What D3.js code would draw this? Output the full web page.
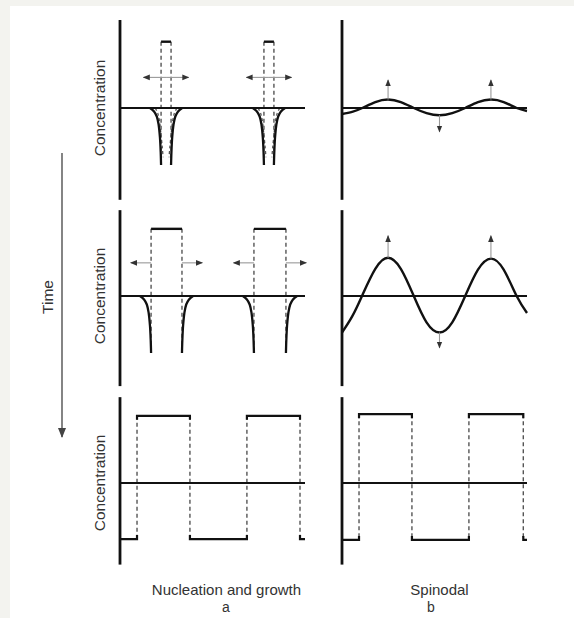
<!DOCTYPE html>
<html>
<head>
<meta charset="utf-8">
<script src="https://cdn.jsdelivr.net/npm/d3@7"></script>
<style>
  body { margin: 0; background: #f3f3ef; }
  svg { display: block; }
  text { font-family: "Liberation Sans", Arial, sans-serif; fill: #333; }
</style>
</head>
<body>
<script>
// --- data (x in 0..100 along a panel, y in -1..1 around the baseline) ---
const rowLabels = ["Concentration", "Concentration", "Concentration"];
const colCaptions = ["Nucleation and growth", "Spinodal"];
const colLetters = ["a", "b"];
const timeLabel = "Time";

// nucleation: precipitate edges, stage 1 and 2
const nucTopEdges = [[22.2, 27.6], [77.8, 83.2]];
const nucMidEdges = [[16.8, 33.5], [72.4, 89.7]];
const precipLevel = [0.78, 0.79];
const wellDx = [-6, -3.8, -2.3, -1.3, -0.6, -0.2, 0];
const wellDy = [0, -0.04, -0.1, -0.2, -0.35, -0.52, -0.67];
const innerDx = [-3.2, -1.8, -0.8, -0.1, 0.6, 1.1];
const innerDy = [0, -0.06, -0.16, -0.3, -0.45, -0.58];
const nucArrowY = [0.36, 0.39];
const nucArrowLen = [12.2, 11.0];

// spinodal wave samples
const waveX = [0, 5.5, 11, 18, 24.9, 31.8, 38.8, 45.7, 52.7, 59.6, 66.6, 73.5, 80.5, 87.4, 94.4, 100];
const waveTopY = [-0.07, -0.045, 0.0, 0.07, 0.1, 0.07, 0.0, -0.06, -0.085, -0.06, 0.0, 0.07, 0.1, 0.07, 0.0, -0.035];
const waveMidY = [-0.43, -0.24, 0.01, 0.32, 0.45, 0.32, 0.0, -0.31, -0.43, -0.31, 0.0, 0.31, 0.44, 0.31, 0.0, -0.2];
const waveArrowX = [24.9, 52.7, 80.5];
const waveTopTips = [0.33, -0.28, 0.33];
const waveMidTips = [0.71, -0.61, 0.71];

// final stage: square profiles
const sqEdges = [[9.2, 37.8, 68.6, 97.3], [9.2, 37.8, 68.6, 98.0]];
const sqHigh = [0.79, 0.81];
const sqLow = [-0.66, -0.67];

// axis extents per row
const axisLo = [-1.08, -1.06, -0.96];
const axisHi = [1.035, 1.01, 1.01];

// --- layout ---
const W = 574, H = 618;
const colX = [120, 342], colW = 185;
const rowBase = [108, 296, 483], rowHalf = 85;

const svg = d3.select("body").append("svg").attr("width", W).attr("height", H);
svg.append("rect").attr("width", W).attr("height", H).attr("fill", "#f3f3ef");
svg.append("rect").attr("x", 10).attr("y", 6).attr("width", W - 10).attr("height", H - 6).attr("fill", "#fff");

const defs = svg.append("defs");
defs.append("marker").attr("id", "ah").attr("viewBox", "0 0 10 10")
    .attr("refX", 9).attr("refY", 5).attr("markerWidth", 7).attr("markerHeight", 7)
    .attr("markerUnits", "userSpaceOnUse").attr("orient", "auto")
  .append("path").attr("d", "M0,1 L10,5 L0,9 Z").attr("fill", "#333");
defs.append("marker").attr("id", "ahT").attr("viewBox", "0 0 10 10")
    .attr("refX", 9).attr("refY", 5).attr("markerWidth", 10).attr("markerHeight", 10)
    .attr("markerUnits", "userSpaceOnUse").attr("orient", "auto")
  .append("path").attr("d", "M0,1 L10,5 L0,9 Z").attr("fill", "#444");

const dash = "4,3";
const line = d3.line();

function panel(r, c) {
  const x = d3.scaleLinear().domain([0, 100]).range([colX[c], colX[c] + colW]);
  const y = d3.scaleLinear().domain([-1, 1]).range([rowBase[r] + rowHalf, rowBase[r] - rowHalf]);
  const g = svg.append("g");
  return {x, y, g};
}

function frame(p, r) {
  p.g.append("line").attr("x1", p.x(0)).attr("x2", p.x(100)).attr("y1", p.y(0)).attr("y2", p.y(0))
    .attr("stroke", "#111").attr("stroke-width", 2.2);
  p.g.append("line").attr("x1", p.x(0)).attr("x2", p.x(0)).attr("y1", p.y(axisLo[r])).attr("y2", p.y(axisHi[r]))
    .attr("stroke", "#111").attr("stroke-width", 2.8);
}

function arrow(p, x1, y1, x2, y2) {
  p.g.append("line").attr("x1", p.x(x1)).attr("y1", p.y(y1)).attr("x2", p.x(x2)).attr("y2", p.y(y2))
    .attr("stroke", "#999").attr("stroke-width", 1.1).attr("marker-end", "url(#ah)");
}

function nucleation(r, edges, level, inner) {
  const p = panel(r, 0);
  edges.forEach(([x0, x1]) => {
    // dashed precipitate walls
    [x0, x1].forEach(e => {
      p.g.append("line").attr("x1", p.x(e)).attr("x2", p.x(e))
        .attr("y1", p.y(level[r])).attr("y2", p.y(wellDy[wellDy.length - 1]))
        .attr("stroke", "#555").attr("stroke-width", 1.4).attr("stroke-dasharray", dash);
    });
    if (inner) {
      const li = innerDx.map((d, i) => [p.x(x0 + d), p.y(innerDy[i])]);
      const ri = innerDx.map((d, i) => [p.x(x1 - d), p.y(innerDy[i])]);
      [li, ri].forEach(pts => p.g.append("path").attr("d", line.curve(d3.curveCatmullRom)(pts))
        .attr("fill", "none").attr("stroke", "#555").attr("stroke-width", 1.3).attr("stroke-dasharray", "3,2.5"));
    }
    // precipitate top
    p.g.append("line").attr("x1", p.x(x0)).attr("x2", p.x(x1)).attr("y1", p.y(level[r])).attr("y2", p.y(level[r]))
      .attr("stroke", "#111").attr("stroke-width", 2.4);
    // depletion wells
    const lp = wellDx.map((d, i) => [p.x(x0 + d), p.y(wellDy[i])]);
    const rp = wellDx.map((d, i) => [p.x(x1 - d), p.y(wellDy[i])]);
    [lp, rp].forEach(pts => p.g.append("path").attr("d", line.curve(d3.curveCatmullRom)(pts))
      .attr("fill", "none").attr("stroke", "#111").attr("stroke-width", 2.3));
    // growth arrows
    const ay = nucArrowY[r];
    if (r === 0) {
      const mid = (x0 + x1) / 2;
      arrow(p, mid, ay, mid - nucArrowLen[r], ay);
      arrow(p, mid, ay, mid + nucArrowLen[r], ay);
    } else {
      arrow(p, x0, ay, x0 - nucArrowLen[r], ay);
      arrow(p, x1, ay, x1 + nucArrowLen[r], ay);
    }
  });
  frame(p, r);
}

function spinodal(r, ys, tips) {
  const p = panel(r, 1);
  frame(p, r);
  const pts = waveX.map((d, i) => [p.x(d), p.y(ys[i])]);
  p.g.append("path").attr("d", line.curve(d3.curveNatural)(pts))
    .attr("fill", "none").attr("stroke", "#111").attr("stroke-width", 2.4);
  waveArrowX.forEach((xv, i) => {
    const yv = ys[waveX.indexOf(xv)];
    arrow(p, xv, yv, xv, tips[i]);
  });
}

function square(r, c) {
  const p = panel(r, c);
  const e = sqEdges[c], hi = sqHigh[c], lo = sqLow[c], tk = 4;
  e.forEach(xv => {
    p.g.append("line").attr("x1", p.x(xv)).attr("x2", p.x(xv)).attr("y1", p.y(hi)).attr("y2", p.y(lo))
      .attr("stroke", "#555").attr("stroke-width", 1.4).attr("stroke-dasharray", dash);
  });
  // plateaus with small corner ticks
  const segs = [[0, e[0], lo], [e[0], e[1], hi], [e[1], e[2], lo], [e[2], e[3], hi], [e[3], 100, lo]];
  segs.forEach(([a, b, v], i) => {
    const sgn = v > 0 ? 1 : -1;
    const yy = p.y(v);
    const pts = [];
    if (i > 0) pts.push([p.x(a), yy + sgn * tk]);
    pts.push([p.x(a), yy]);
    pts.push([p.x(b), yy]);
    if (i < segs.length - 1) pts.push([p.x(b), yy + sgn * tk]);
    p.g.append("path").attr("d", d3.line()(pts)).attr("fill", "none")
      .attr("stroke", "#111").attr("stroke-width", 2.2);
  });
  frame(p, r);
}

nucleation(0, nucTopEdges, precipLevel, true);
nucleation(1, nucMidEdges, precipLevel, false);
spinodal(0, waveTopY, waveTopTips);
spinodal(1, waveMidY, waveMidTips);
square(2, 0);
square(2, 1);

// row labels
rowBase.forEach((b, i) => {
  svg.append("text").attr("transform", `translate(105,${b}) rotate(-90)`)
    .attr("text-anchor", "middle").attr("font-size", 15.5).text(rowLabels[i]);
});

// time arrow
svg.append("line").attr("x1", 62).attr("x2", 62).attr("y1", 153).attr("y2", 437)
  .attr("stroke", "#666").attr("stroke-width", 1.6).attr("marker-end", "url(#ahT)");
svg.append("text").attr("transform", "translate(53,297) rotate(-90)")
  .attr("text-anchor", "middle").attr("font-size", 15.5).text(timeLabel);

// captions
const capX = [226.5, 439.5], letX = [226, 431];
colCaptions.forEach((t, i) => {
  svg.append("text").attr("x", capX[i]).attr("y", 595).attr("text-anchor", "middle")
    .attr("font-size", 15).text(t);
  svg.append("text").attr("x", letX[i]).attr("y", 612).attr("text-anchor", "middle")
    .attr("font-size", 14).text(colLetters[i]);
});
</script>
</body>
</html>
